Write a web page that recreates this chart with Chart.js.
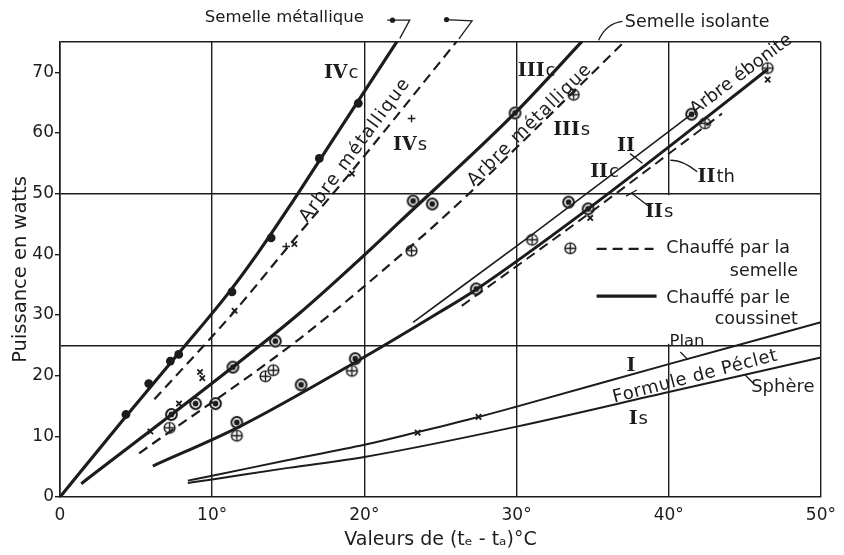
<!DOCTYPE html>
<html>
<head>
<meta charset="utf-8">
<script src="https://cdn.jsdelivr.net/npm/chart.js@4.4.0/dist/chart.umd.min.js"></script>
<style>
  body { margin: 0; background: #fff; }
  #wrap { width: 844px; height: 555px; }
</style>
</head>
<body>
<div id="wrap"><canvas id="chart" width="844" height="555"></canvas></div>
<script>
// Puissance dissipée en fonction de (te - ta) : courbes I à IV
const xTicks = [0, 10, 20, 30, 40, 50];
const yTickLabels = [0, 10, 20, 30, 40, 50, 60, 70];
const yGridAt = [25, 50, 75];

// courbes [x = te - ta en °C, y = puissance en W]
const courbeIVc = [[0,0],[4.3,13.2],[8,24.3],[11,33.4],[13,40.2],[15,47.6],[17,55.3],[22.2,75.3]];
const courbeIVs = [[6.2,16.1],[11.5,30.7],[15.1,41.6],[19.2,53.8],[26.1,75.2]];
const courbeIIIc = [[1.4,2.2],[11.4,21.5],[15.7,30.2],[19.4,38.5],[22.3,45.3],[29.9,63.3],[34.3,75.1]];
const courbeIIIs = [[5.2,7.2],[15.7,26.0],[23.0,41.2],[26.7,49.6],[30.0,57.6],[37.1,75.1]];
const courbeIIc = [[6.1,5.1],[11.8,11.6],[19.4,22.2],[24.9,30.4],[27.4,34.3],[34.7,47.5],[42.4,62.4],[46.5,70.5]];
const courbeII = [[23.2,28.8],[31.0,43.2],[41.5,63.1]];
const courbeIIs = [[26.4,31.5],[34.8,46.8],[43.5,63.2]];
const courbeI = [[8.4,2.7],[10,3.5],[15,6.1],[20,8.6],[23.5,10.7],[27.5,13.2],[30,14.9],[40,21.9],[50,28.8]];
const courbeIs = [[8.4,2.3],[10,2.9],[15,4.8],[20,6.6],[30,11.6],[40,17.3],[50,23.0]];

// points mesurés
const ptsPleins = [[4.33,13.6],[5.83,18.7],[7.25,22.4],[7.8,23.5],[11.3,33.8],[13.87,42.7],[17.04,55.8],[19.6,64.9]];
const ptsCercles = [[7.32,13.6],[8.91,15.4],[10.22,15.4],[11.36,21.4],[14.15,25.7],[11.62,12.3],[15.84,18.5],[19.4,22.8],
  [23.2,48.8],[24.46,48.3],[29.9,63.3],[33.42,48.6],[34.7,47.5],[27.35,34.3],[41.5,63.1]];
const ptsCroixCercle = [[7.2,11.4],[11.62,10.1],[13.5,19.9],[14.02,20.9],[19.18,20.8],[23.1,40.6],[33.75,66.3],
  [33.53,41.0],[31.02,42.4],[42.38,61.6],[46.5,70.7]];
const ptsCroix = [[5.94,10.8],[7.82,15.4],[9.2,20.6],[9.35,19.6],[11.47,30.7],[15.4,41.7],[19.18,53.3],
  [23.5,10.6],[27.5,13.2],[34.84,46.0],[46.5,68.8]];
const ptsPlus = [[14.86,41.3],[23.1,62.4]];

const ink = '#1c1c1c';
const sans = '"DejaVu Sans", sans-serif';
const serif = '"DejaVu Serif", serif';
const xy = a => a.map(([x, y]) => ({ x, y }));

function marque(kind) {
  const c = document.createElement('canvas');
  c.width = c.height = 15;
  const g = c.getContext('2d');
  g.fillStyle = '#fff';
  g.beginPath(); g.arc(7.5, 7.5, 6.8, 0, Math.PI * 2); g.fill();
  g.strokeStyle = g.fillStyle = ink;
  g.lineWidth = kind === 'point' ? 2 : 1.4;
  g.beginPath(); g.arc(7.5, 7.5, 5.4, 0, Math.PI * 2); g.stroke();
  if (kind === 'point') {
    g.beginPath(); g.arc(7.5, 7.5, 2.9, 0, Math.PI * 2); g.fill();
  } else {
    g.beginPath(); g.moveTo(2, 7.5); g.lineTo(13, 7.5); g.moveTo(7.5, 2); g.lineTo(7.5, 13); g.stroke();
  }
  return c;
}

const courbe = (data, width, dash) => ({
  data: xy(data), showLine: true, borderColor: ink, borderWidth: width,
  borderDash: dash || [], pointRadius: 0, cubicInterpolationMode: 'monotone'
});
const points = (data, style, radius, extra) => Object.assign({
  data: xy(data), showLine: false, pointStyle: style, pointRadius: radius,
  borderColor: ink, backgroundColor: ink, borderWidth: 1.8
}, extra || {});

const tirets = [10, 6];

const annotations = {
  id: 'annotations',
  beforeDatasetsDraw(chart) {
    // la ligne des 40° est interrompue derrière la légende
    const { ctx, scales: { x, y } } = chart;
    ctx.save();
    ctx.fillStyle = '#fff';
    const top = y.getPixelForValue(50) + 1.5, bot = y.getPixelForValue(25) - 1.5;
    ctx.fillRect(x.getPixelForValue(40) - 3, top, 6, bot - top);
    ctx.restore();
  },
  afterDraw(chart) {
    const { ctx, scales: { x, y } } = chart;
    const X = v => x.getPixelForValue(v), Y = v => y.getPixelForValue(v);

    const texte = (str, vx, vy, o = {}) => {
      ctx.save();
      ctx.translate(X(vx), Y(vy));
      if (o.angle) ctx.rotate(o.angle * Math.PI / 180);
      ctx.font = `${o.size || 18}px ${sans}`;
      ctx.letterSpacing = (o.spacing || 0) + 'px';
      ctx.textAlign = o.align || 'center';
      ctx.textBaseline = 'middle';
      ctx.fillStyle = ink;
      ctx.fillText(str, 0, 0);
      ctx.restore();
    };
    const romain = (num, sub, vx, vy) => {
      ctx.save();
      ctx.fillStyle = ink;
      ctx.textBaseline = 'alphabetic';
      ctx.textAlign = 'left';
      ctx.font = `bold 19px ${serif}`;
      const w1 = ctx.measureText(num).width;
      ctx.font = `18px ${sans}`;
      const w2 = sub ? ctx.measureText(sub).width : 0;
      const x0 = X(vx) - (w1 + w2 + 1) / 2, y0 = Y(vy) + 7;
      ctx.font = `bold 19px ${serif}`;
      ctx.fillText(num, x0, y0);
      if (sub) { ctx.font = `18px ${sans}`; ctx.fillText(sub, x0 + w1 + 1, y0); }
      ctx.restore();
    };
    const trait = (pts, width = 1.3, dash = []) => {
      ctx.save();
      ctx.strokeStyle = ink; ctx.lineWidth = width; ctx.setLineDash(dash);
      ctx.beginPath();
      pts.forEach(([a, b], i) => i ? ctx.lineTo(X(a), Y(b)) : ctx.moveTo(X(a), Y(b)));
      ctx.stroke();
      ctx.restore();
    };
    const arc = (p0, c, p1) => {
      ctx.save();
      ctx.strokeStyle = ink; ctx.lineWidth = 1.3;
      ctx.beginPath();
      ctx.moveTo(X(p0[0]), Y(p0[1]));
      ctx.quadraticCurveTo(X(c[0]), Y(c[1]), X(p1[0]), Y(p1[1]));
      ctx.stroke();
      ctx.restore();
    };
    const pastille = (vx, vy) => {
      ctx.save(); ctx.fillStyle = ink;
      ctx.beginPath(); ctx.arc(X(vx), Y(vy), 2.6, 0, Math.PI * 2); ctx.fill();
      ctx.restore();
    };

    // légende
    trait([[35.26, 40.9], [39.0, 40.9]], 2.2, tirets);
    texte('Chauffé par la', 39.84, 40.9, { align: 'left', size: 17.5 });
    texte('semelle', 48.49, 37.1, { align: 'right', size: 17.5 });
    trait([[35.26, 33.1], [39.2, 33.1]], 3.2);
    texte('Chauffé par le', 39.84, 32.8, { align: 'left', size: 17.5 });
    texte('coussinet', 48.49, 29.3, { align: 'right', size: 17.5 });

    // repères des courbes
    romain('IV', 'c', 18.48, 70.2);
    romain('IV', 's', 23.0, 58.3);
    romain('III', 'c', 31.32, 70.5);
    romain('III', 's', 33.62, 60.8);
    romain('II', '', 37.22, 58.2);
    romain('II', 'c', 35.78, 53.9);
    romain('II', 'th', 43.12, 53.1);
    romain('II', 's', 39.38, 47.3);
    romain('I', '', 37.55, 21.9);
    romain('I', 's', 38.0, 13.2);

    trait([[37.46, 56.6], [38.27, 55.0]]);
    arc([41.87, 53.6], [40.9, 55.6], [40.1, 55.5]);
    trait([[38.86, 47.6], [37.55, 50.1]]);
    trait([[37.2, 49.6], [37.9, 50.6]]);
    trait([[40.76, 23.9], [41.28, 22.6]]);
    trait([[45.02, 20.1], [45.54, 18.8]]);

    texte('Plan', 41.2, 25.6, { size: 16.5 });
    texte('Sphère', 47.5, 18.0, { size: 18 });
    texte('Formule de Péclet', 41.74, 19.8, { angle: -14.6, size: 18, spacing: 0.5 });
    texte('Arbre métallique', 19.4, 57.2, { angle: -53.6, size: 18, spacing: 1.5 });
    texte('Arbre métallique', 30.87, 61.3, { angle: -44.5, size: 18, spacing: 1 });
    texte('Arbre ébonite', 44.76, 69.6, { angle: -37, size: 18 });

    // renvois du haut
    texte('Semelle métallique', 14.74, 78.95, { size: 16.5 });
    trait([[21.5, 78.6], [22.98, 78.6], [22.33, 75.6]]);
    pastille(21.85, 78.6);
    trait([[25.3, 78.7], [27.08, 78.5], [26.21, 75.5]]);
    pastille(25.4, 78.7);
    texte('Semelle isolante', 41.87, 78.3, { size: 17.5 });
    arc([36.96, 78.4], [35.9, 78.1], [35.39, 75.3]);
  }
};

new Chart(document.getElementById('chart'), {
  type: 'scatter',
  data: {
    datasets: [
      courbe(courbeIVc, 3.2),
      courbe(courbeIVs, 2.2, tirets),
      courbe(courbeIIIc, 3.2),
      courbe(courbeIIIs, 2.2, tirets),
      courbe(courbeIIc, 3.0),
      courbe(courbeII, 1.6),
      courbe(courbeIIs, 2.0, tirets),
      courbe(courbeI, 2.0),
      courbe(courbeIs, 2.0),
      points(ptsPleins, 'circle', 4.4, { borderWidth: 0 }),
      points(ptsCercles, marque('point'), 6),
      points(ptsCroixCercle, marque('croix'), 6),
      points(ptsCroix, 'crossRot', 3.8),
      points(ptsPlus, 'cross', 3.8, { borderWidth: 1.4 })
    ]
  },
  options: {
    responsive: false,
    animation: false,
    events: [],
    layout: { padding: { top: 42, right: 21, left: 0, bottom: 0 } },
    plugins: { legend: { display: false }, tooltip: { enabled: false } },
    scales: {
      x: {
        type: 'linear', min: 0, max: 50,
        afterBuildTicks: s => { s.ticks = xTicks.map(v => ({ value: v })); },
        afterFit: s => { s.height = 58; },
        grid: { color: ink, lineWidth: 1.4, drawTicks: false },
        border: { color: ink, width: 1.6 },
        ticks: {
          color: ink, padding: 8, font: { family: sans, size: 17 },
          callback: v => v === 0 ? '0' : v + '°'
        },
        title: {
          display: true, text: 'Valeurs de (tₑ - tₐ)°C', color: ink,
          font: { family: sans, size: 19 }, padding: { top: 0, bottom: 4 }
        }
      },
      y: {
        type: 'linear', min: 0, max: 75,
        afterBuildTicks: s => {
          s.ticks = [...new Set([...yTickLabels, ...yGridAt])].sort((a, b) => a - b).map(v => ({ value: v }));
        },
        afterFit: s => { s.width = 60; },
        grid: {
          lineWidth: 1.4, tickLength: 5, tickWidth: 1.4,
          color: c => yGridAt.includes(c.tick.value) ? ink : 'rgba(0,0,0,0)',
          tickColor: c => yTickLabels.includes(c.tick.value) ? ink : 'rgba(0,0,0,0)'
        },
        border: { color: ink, width: 1.6 },
        ticks: {
          color: ink, padding: 1, font: { family: sans, size: 17 },
          callback: v => yTickLabels.includes(v) ? String(v) : ''
        },
        title: {
          display: true, text: 'Puissance en watts', color: ink,
          font: { family: sans, size: 19.5 }, padding: { top: 9, bottom: 0 }
        }
      }
    }
  },
  plugins: [annotations]
});
</script>
</body>
</html>
